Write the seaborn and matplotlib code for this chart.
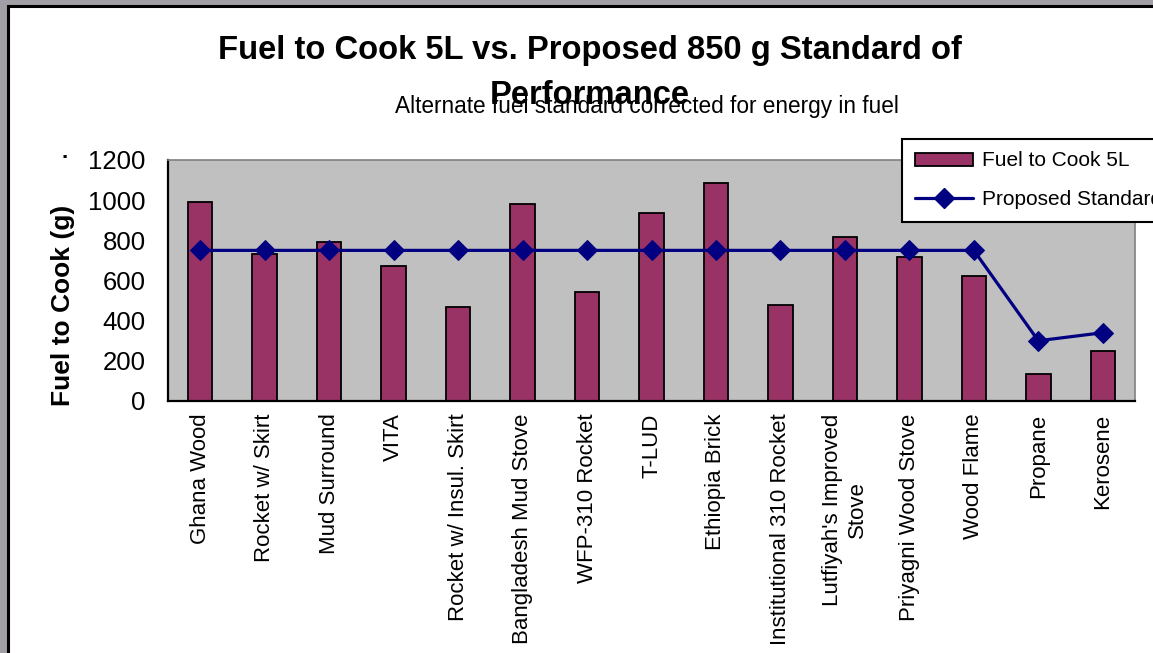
import numpy as np
import pandas as pd
import matplotlib
matplotlib.use("Agg")
import matplotlib.pyplot as plt
from matplotlib.patches import Rectangle
from matplotlib.lines import Line2D
import seaborn as sns

# ── data ────────────────────────────────────────────────────────────────
stoves = [
    "Ghana Wood", "Rocket w/ Skirt", "Mud Surround", "VITA",
    "Rocket w/ Insul. Skirt", "Bangladesh Mud Stove", "WFP-310 Rocket",
    "T-LUD", "Ethiopia Brick", "Institutional 310 Rocket",
    "Lutfiyah's Improved\nStove", "Priyagni Wood Stove", "Wood Flame",
    "Propane", "Kerosene",
]
fuel_to_cook = [990, 730, 790, 670, 470, 980, 545, 935, 1085, 480,
                815, 715, 620, 135, 250]
proposed_std = [750, 750, 750, 750, 750, 750, 750, 750, 750, 750,
                750, 750, 750, 300, 340]
y_ticks = [0, 200, 400, 600, 800, 1000, 1200]

# ── colours ─────────────────────────────────────────────────────────────
FRAME_GRAY = "#a19ea5"
PLOT_GRAY = "#c0c0c0"
BAR_COLOR = "#993366"
LINE_COLOR = "#000080"

sns.set_style("white")
plt.rcParams["font.family"] = ["Liberation Sans", "DejaVu Sans"]
plt.rcParams.update({
    "text.color": "black",
    "axes.labelcolor": "black",
    "xtick.color": "black",
    "ytick.color": "black",
})

W, H = 1153, 653
fig = plt.figure(figsize=(W / 100, H / 100), dpi=100)
fig.patch.set_facecolor(FRAME_GRAY)

# white chart area with black border, running off the right / bottom edge
fig.patches.append(Rectangle((8 / W, -0.05), 1.1, 1 - 6 / H + 0.05,
                             transform=fig.transFigure, facecolor="white",
                             edgecolor="black", linewidth=2.2, zorder=-5))

ax = fig.add_axes([168 / W, 1 - 401 / H, (1135 - 168) / W, (401 - 160) / H])
ax.set_facecolor(PLOT_GRAY)

df = pd.DataFrame({"stove": stoves, "fuel": fuel_to_cook, "std": proposed_std})
idx = np.arange(len(stoves))

sns.barplot(data=df, x="stove", y="fuel", color=BAR_COLOR, saturation=1,
            width=0.38, edgecolor="black", linewidth=1.3, ax=ax, zorder=2)
sns.lineplot(x=idx, y=df["std"], color=LINE_COLOR, linewidth=2.3,
             marker="D", markersize=10.5, markeredgecolor=LINE_COLOR,
             ax=ax, zorder=3)

ax.set_xlim(-0.5, len(stoves) - 0.5)
ax.set_ylim(0, 1200)
ax.set_yticks(y_ticks)
ax.set_yticklabels([str(v) for v in y_ticks], fontsize=18.5)

# ticks at category boundaries, labels at centres
ax.set_xticks(np.arange(-0.5, len(stoves), 1))
ax.set_xticklabels([])
ax.set_xticks(idx, minor=True)
ax.set_xticklabels(stoves, minor=True, rotation=90, fontsize=16,
                   multialignment="center")
ax.tick_params(axis="x", which="major", direction="inout", length=11,
               width=1.5, color="black")
ax.tick_params(axis="x", which="minor", length=0, pad=9)
ax.tick_params(axis="y", direction="inout", length=14, width=1.5,
               color="black", pad=9)

ax.set_xlabel("")
ax.set_ylabel("")
# y axis title sits a bit below the axis centre, as in the original
fig.text(63 / W, 1 - 305 / H, "Fuel to Cook (g)", rotation=90,
         ha="center", va="center", fontsize=19, fontweight="bold")

for side in ["left", "bottom"]:
    ax.spines[side].set_color("black")
    ax.spines[side].set_linewidth(1.6)
for side in ["top", "right"]:
    ax.spines[side].set_color("#808080")
    ax.spines[side].set_linewidth(1.2)

# titles
fig.text(590 / W, 1 - 51 / H,
         "Fuel to Cook 5L vs. Proposed 850 g Standard of",
         ha="center", va="center", fontsize=23.6, fontweight="bold")
fig.text(590 / W, 1 - 95 / H, "Performance",
         ha="center", va="center", fontsize=23.6, fontweight="bold")
fig.text(647 / W, 1 - 107 / H,
         "Alternate fuel standard corrected for energy in fuel",
         ha="center", va="center", fontsize=16.3)
fig.text(65 / W, 1 - 163 / H, ".", ha="center", va="bottom",
         fontsize=16, fontweight="bold")

# legend (runs off the right edge like the original)
handles = [
    Rectangle((0, 0), 1, 1, facecolor=BAR_COLOR, edgecolor="black",
              linewidth=1.3),
    Line2D([], [], color=LINE_COLOR, linewidth=2.3, marker="D",
           markersize=10.5),
]
leg = fig.legend(handles, ["Fuel to Cook 5L", "Proposed Standard"],
                 loc="upper left", bbox_to_anchor=(902 / W, 1 - 139 / H),
                 frameon=True, fancybox=False, fontsize=15,
                 handlelength=2.8, handleheight=0.6, borderpad=0.6,
                 labelspacing=0.95, handletextpad=0.45, borderaxespad=0)
leg.get_frame().set_edgecolor("black")
leg.get_frame().set_linewidth(1.5)
leg.get_frame().set_facecolor("white")
leg.get_frame().set_alpha(1)

fig.savefig("out.png", dpi=100, facecolor=fig.get_facecolor())
